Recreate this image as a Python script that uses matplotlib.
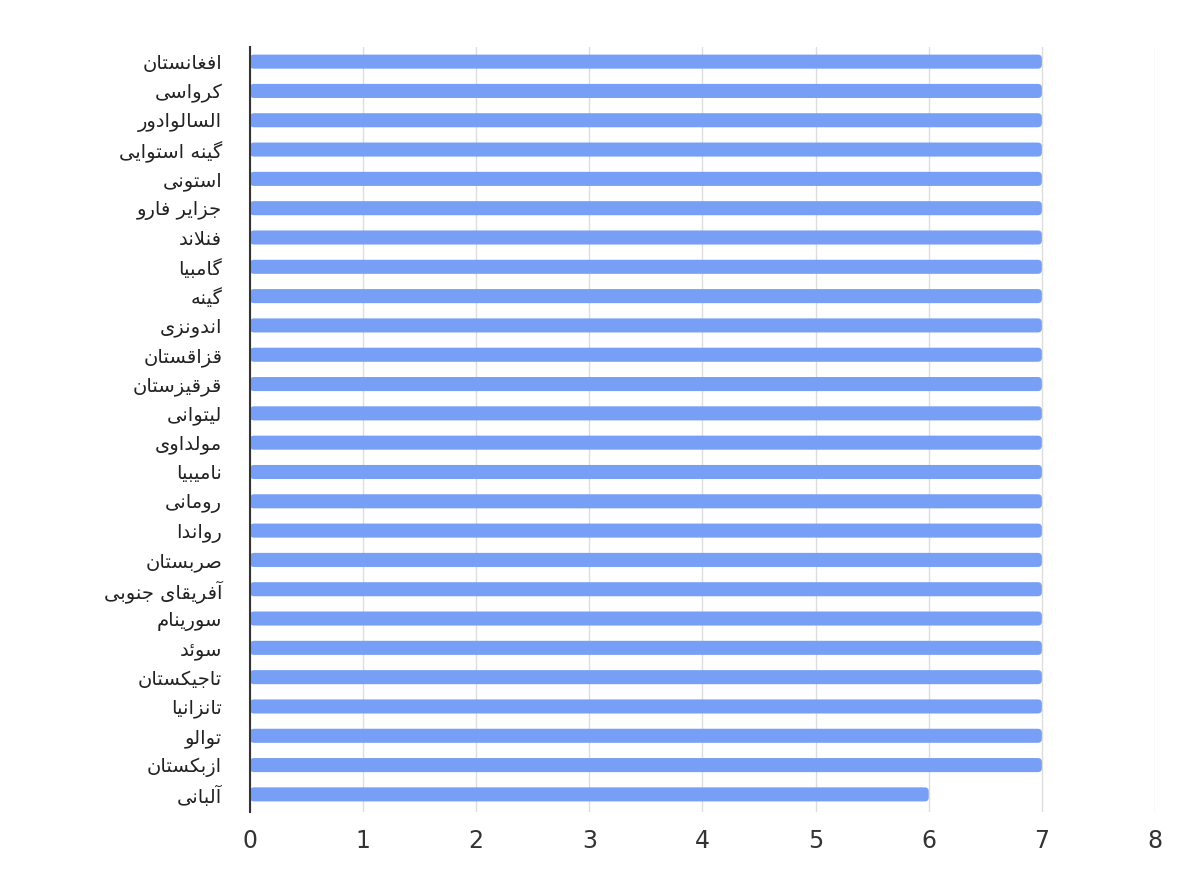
import matplotlib
matplotlib.use("Agg")
import matplotlib.pyplot as plt
from matplotlib.patches import FancyBboxPatch

plt.rcParams['font.family'] = ['DejaVu Sans']

# 数据
countries = [
    "افغانستان", "کرواسی", "السالوادور", "گینه استوایی", "استونی",
    "جزایر فارو", "فنلاند", "گامبیا", "گینه", "اندونزی",
    "قزاقستان", "قرقیزستان", "لیتوانی", "مولداوی", "نامیبیا",
    "رومانی", "رواندا", "صربستان", "آفریقای جنوبی", "سورینام",
    "سوئد", "تاجیکستان", "تانزانیا", "توالو", "ازبکستان", "آلبانی",
]
values = [7, 7, 7, 7, 7, 7, 7, 7, 7, 7, 7, 7, 7, 7, 7, 7, 7, 7, 7, 7, 7, 7, 7, 7, 7, 6]
x_ticks = [0, 1, 2, 3, 4, 5, 6, 7, 8]

# 简单的阿拉伯/波斯文字形处理 (isolated, final, initial, medial)
FORMS = {
    'ا': ('\uFE8D', '\uFE8E'), 'آ': ('\uFE81', '\uFE82'),
    'د': ('\uFEA9', '\uFEAA'), 'ذ': ('\uFEAB', '\uFEAC'),
    'ر': ('\uFEAD', '\uFEAE'), 'ز': ('\uFEAF', '\uFEB0'),
    'ژ': ('\uFB8A', '\uFB8B'), 'و': ('\uFEED', '\uFEEE'),
    'ب': ('\uFE8F', '\uFE90', '\uFE91', '\uFE92'),
    'پ': ('\uFB56', '\uFB57', '\uFB58', '\uFB59'),
    'ت': ('\uFE95', '\uFE96', '\uFE97', '\uFE98'),
    'ث': ('\uFE99', '\uFE9A', '\uFE9B', '\uFE9C'),
    'ج': ('\uFE9D', '\uFE9E', '\uFE9F', '\uFEA0'),
    'چ': ('\uFB7A', '\uFB7B', '\uFB7C', '\uFB7D'),
    'ح': ('\uFEA1', '\uFEA2', '\uFEA3', '\uFEA4'),
    'خ': ('\uFEA5', '\uFEA6', '\uFEA7', '\uFEA8'),
    'س': ('\uFEB1', '\uFEB2', '\uFEB3', '\uFEB4'),
    'ش': ('\uFEB5', '\uFEB6', '\uFEB7', '\uFEB8'),
    'ص': ('\uFEB9', '\uFEBA', '\uFEBB', '\uFEBC'),
    'ض': ('\uFEBD', '\uFEBE', '\uFEBF', '\uFEC0'),
    'ط': ('\uFEC1', '\uFEC2', '\uFEC3', '\uFEC4'),
    'ظ': ('\uFEC5', '\uFEC6', '\uFEC7', '\uFEC8'),
    'ع': ('\uFEC9', '\uFECA', '\uFECB', '\uFECC'),
    'غ': ('\uFECD', '\uFECE', '\uFECF', '\uFED0'),
    'ف': ('\uFED1', '\uFED2', '\uFED3', '\uFED4'),
    'ق': ('\uFED5', '\uFED6', '\uFED7', '\uFED8'),
    'ک': ('\uFB8E', '\uFB8F', '\uFB90', '\uFB91'),
    'گ': ('\uFB92', '\uFB93', '\uFB94', '\uFB95'),
    'ل': ('\uFEDD', '\uFEDE', '\uFEDF', '\uFEE0'),
    'م': ('\uFEE1', '\uFEE2', '\uFEE3', '\uFEE4'),
    'ن': ('\uFEE5', '\uFEE6', '\uFEE7', '\uFEE8'),
    'ه': ('\uFEE9', '\uFEEA', '\uFEEB', '\uFEEC'),
    'ی': ('\uFBFC', '\uFBFD', '\uFBFE', '\uFBFF'),
    'ي': ('\uFEF1', '\uFEF2', '\uFEF3', '\uFEF4'),
    'ئ': ('\uFE89', '\uFE8A', '\uFE8B', '\uFE8C'),
}
LAM_ALEF = {'ا': ('\uFEFB', '\uFEFC'), 'آ': ('\uFEF5', '\uFEF6')}


def shape(text):
    chars = list(text)
    out = []
    i = 0
    while i < len(chars):
        c = chars[i]
        if c not in FORMS:
            out.append(c)
            i += 1
            continue
        prev = chars[i - 1] if i > 0 else None
        join_prev = prev in FORMS and len(FORMS[prev]) == 4
        nxt = chars[i + 1] if i + 1 < len(chars) else None
        if c == 'ل' and nxt in LAM_ALEF:
            out.append(LAM_ALEF[nxt][1 if join_prev else 0])
            i += 2
            continue
        f = FORMS[c]
        join_next = len(f) == 4 and nxt in FORMS
        if join_prev and join_next:
            out.append(f[3])
        elif join_prev:
            out.append(f[1])
        elif join_next:
            out.append(f[2])
        else:
            out.append(f[0])
        i += 1
    return ''.join(reversed(out))


fig = plt.figure(figsize=(12, 8.88), dpi=100)
ax = fig.add_axes([0.2083, 0.0856, 0.7542, 0.8615])

y_pos = list(range(len(countries)))
bars = ax.barh(y_pos, values, height=0.48, color='#779ff5', zorder=3)

ax.set_xlim(0, 8)
ax.set_ylim(25.6, -0.5)
ax.set_xticks(x_ticks)
ax.set_xticklabels([str(t) for t in x_ticks], fontsize=17, color='#333333')
ax.set_yticks(y_pos)
ax.set_yticklabels([shape(c) for c in countries], fontsize=14, color='#222222')
ax.tick_params(axis='both', length=0)
ax.tick_params(axis='x', pad=12)
ax.tick_params(axis='y', pad=20)

ax.grid(True, axis='x', color='#dddddd', linewidth=1, zorder=0)
ax.grid(False, axis='y')
for side in ['top', 'right', 'bottom']:
    ax.spines[side].set_visible(False)
ax.spines['left'].set_color('#333333')
ax.spines['left'].set_linewidth(1.5)
ax.spines['left'].set_zorder(5)

# 圆角条形
fig.canvas.draw()
px_x = ax.transData.inverted().transform([(0, 0), (1, 1)])
dx = abs(px_x[1][0] - px_x[0][0])
dy = abs(px_x[1][1] - px_x[0][1])
for bar in bars:
    x0, y0 = bar.get_x(), bar.get_y()
    w, h = bar.get_width(), bar.get_height()
    patch = FancyBboxPatch((x0, y0), w, h,
                           boxstyle=f"round,pad=0,rounding_size={4 * dx}",
                           mutation_aspect=dy / dx,
                           facecolor=bar.get_facecolor(), edgecolor='none', zorder=3)
    bar.remove()
    ax.add_patch(patch)

fig.savefig('out.png', dpi=100, facecolor='white')
